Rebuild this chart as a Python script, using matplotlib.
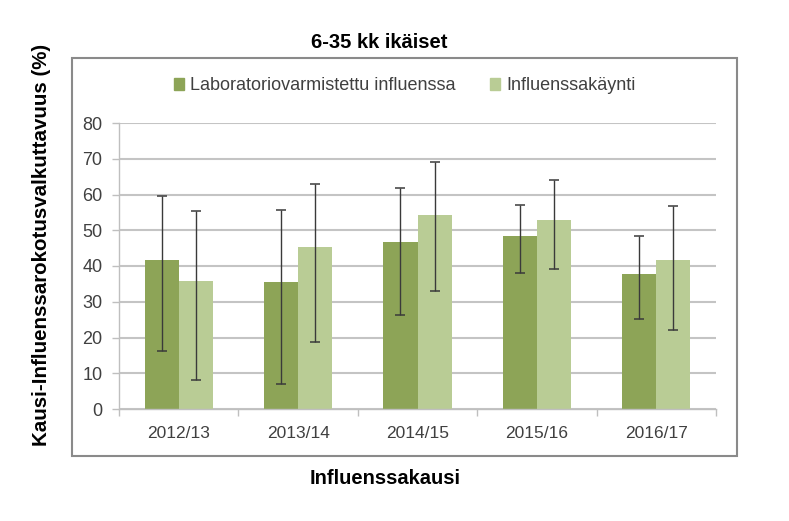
import matplotlib
matplotlib.use("Agg")
import matplotlib.pyplot as plt
from matplotlib.patches import Rectangle, Patch
import numpy as np

# Kausi-influenssarokotuksen valkuttavuus, 6-35 kk
kaudet = ["2012/13", "2013/14", "2014/15", "2015/16", "2016/17"]
lab_arvo = [41.8, 35.5, 46.8, 48.3, 37.7]
lab_ala = [16.3, 6.9, 26.4, 38.0, 25.2]
lab_yla = [59.7, 55.6, 61.7, 57.0, 48.4]
kaynti_arvo = [35.8, 45.3, 54.4, 52.9, 41.8]
kaynti_ala = [8.0, 18.8, 33.0, 39.3, 22.0]
kaynti_yla = [55.4, 62.9, 69.1, 64.0, 56.8]

tumma = "#8DA457"
vaalea = "#B9CC95"
W, H = 789, 521

fig = plt.figure(figsize=(W / 100, H / 100), dpi=100)
plt.rcParams['font.family'] = ['Liberation Sans', 'DejaVu Sans']

# kehys
fig.patches.append(Rectangle((72 / W, 1 - 456 / H), 665 / W, 398 / H,
                             transform=fig.transFigure, fill=False,
                             edgecolor="#8a8a8a", linewidth=1.5))

ax = fig.add_axes([119 / W, 1 - 409 / H, 597 / W, 286 / H])
x = np.arange(len(kaudet))
lev = 0.285

lab_err = [np.array(lab_arvo) - np.array(lab_ala), np.array(lab_yla) - np.array(lab_arvo)]
kay_err = [np.array(kaynti_arvo) - np.array(kaynti_ala), np.array(kaynti_yla) - np.array(kaynti_arvo)]

ax.bar(x - lev / 2, lab_arvo, lev, color=tumma, zorder=2)
ax.bar(x + lev / 2, kaynti_arvo, lev, color=vaalea, zorder=2)
ax.errorbar(x - lev / 2, lab_arvo, yerr=lab_err, fmt='none', ecolor="#3a3a3a",
            elinewidth=1.0, capsize=3.3, capthick=1.1, zorder=3)
ax.errorbar(x + lev / 2, kaynti_arvo, yerr=kay_err, fmt='none', ecolor="#3a3a3a",
            elinewidth=1.0, capsize=3.3, capthick=1.1, zorder=3)

ax.set_xlim(-0.5, len(kaudet) - 0.5)
ax.set_ylim(0, 80)
ax.set_yticks(range(0, 81, 10))
ax.set_xticks(x)
ax.set_xticklabels(kaudet)
ax.set_xticks(np.arange(-0.5, len(kaudet)), minor=True)
ax.tick_params(axis='x', which='major', length=0, pad=12, labelsize=12.5, labelcolor="#404040")
ax.tick_params(axis='x', which='minor', length=5, color="#bfbfbf", width=1)
ax.tick_params(axis='y', length=5, color="#bfbfbf", width=1, pad=7, labelsize=13, labelcolor="#404040")
ax.grid(axis='y', color="#c4c4c4", linewidth=1.5, zorder=0)
ax.set_axisbelow(True)
for s in ['top', 'right']:
    ax.spines[s].set_visible(False)
for s in ['left', 'bottom']:
    ax.spines[s].set_color("#bfbfbf")
    ax.spines[s].set_linewidth(1)

kahvat = [Patch(color=tumma, label="Laboratoriovarmistettu influenssa"),
          Patch(color=vaalea, label="Influenssakäynti")]
fig.legend(handles=kahvat, loc='center', bbox_to_anchor=(405 / W, 1 - 86 / H), ncol=2,
           frameon=False, fontsize=13, handlelength=0.55, handleheight=0.6,
           handletextpad=0.35, columnspacing=1.9, labelcolor="#404040")

fig.text(379 / W, 1 - 42 / H, "6-35 kk ikäiset", ha='center', va='center',
         fontsize=14.5, fontweight='bold')
fig.text(385 / W, 1 - 478 / H, "Influenssakausi", ha='center', va='center',
         fontsize=14.5, fontweight='bold')
fig.text(42 / W, 1 - 245 / H, "Kausi-Influenssarokotusvalkuttavuus (%)", ha='center',
         va='center', rotation=90, fontsize=14.8, fontweight='bold')

fig.savefig("out.png", dpi=100)
